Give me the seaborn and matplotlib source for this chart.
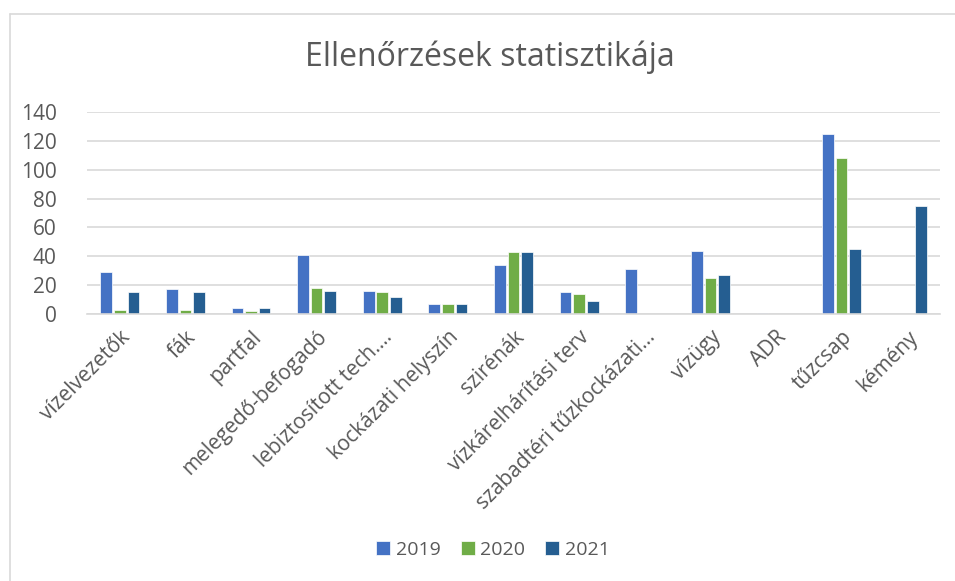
import matplotlib.pyplot as plt
import matplotlib.lines as mlines
import pandas as pd
import seaborn as sns

# %% data
categories = ["vízelvezetők", "fák", "partfal", "melegedő-befogadó",
              "lebiztosított tech.…", "kockázati helyszín", "szirénák",
              "vízkárelhárítási terv", "szabadtéri tűzkockázati…", "vízügy",
              "ADR", "tűzcsap", "kémény"]
years = ["2019", "2020", "2021"]
v2019 = [29, 17, 4, 41, 16, 7, 34, 15, 31, 44, 1, 125, 0]
v2020 = [3, 3, 2, 18, 15, 7, 43, 14, 0, 25, 0, 108, 0]
v2021 = [15, 15, 4, 16, 12, 7, 43, 9, 0, 27, 0, 45, 75]
colors = ["#4472C4", "#70AD47", "#255E91"]

df = pd.DataFrame({
    "category": categories * 3,
    "year": [y for y in years for _ in categories],
    "value": v2019 + v2020 + v2021,
})

# %% style
sns.set_style("white")
plt.rcParams["font.family"] = ["Open Sans", "DejaVu Sans"]
txt = "#595959"

fig = plt.figure(figsize=(9.55, 5.81), dpi=100)
ax = fig.add_axes([87/955, 1 - 314/581, (940 - 87)/955, (314 - 112)/581])

sns.barplot(data=df, x="category", y="value", hue="year", order=categories,
            hue_order=years, palette=colors, saturation=1, width=0.62,
            gap=0.14, edgecolor="white", linewidth=0.5, errorbar=None, ax=ax)

ax.set_ylim(0, 140)
ax.set_xlim(-0.5, len(categories) - 0.5)
ax.set_yticks(range(0, 141, 20))
ax.yaxis.grid(True, color="#D9D9D9", linewidth=1.2)
ax.set_axisbelow(True)
for s in ["top", "right", "left"]:
    ax.spines[s].set_visible(False)
ax.spines["bottom"].set_color("#D9D9D9")
ax.spines["bottom"].set_linewidth(1.2)
ax.set_xlabel("")
ax.set_ylabel("")
ax.tick_params(axis="both", length=0, colors=txt)
ax.tick_params(axis="y", pad=22, labelsize=15)
ax.set_xticks(range(len(categories)))
ax.set_xticklabels(categories, rotation=45, ha="right", va="top",
                   rotation_mode="anchor", color=txt, fontsize=15)
ax.tick_params(axis="x", pad=9)

fig.text(0.513, 1 - 57/581, "Ellenőrzések statisztikája", ha="center",
         va="center", fontsize=23, color=txt)

ax.legend(loc="center", bbox_to_anchor=(493/955, 1 - 550/581),
          bbox_transform=fig.transFigure, ncol=3, frameon=False,
          fontsize=14, handlelength=0.72, handleheight=0.72,
          columnspacing=1.0, handletextpad=0.3, labelcolor=txt)

# light frame of the chart area (cropped on right and bottom)
fig.add_artist(mlines.Line2D([10/955, 1], [1 - 14/581, 1 - 14/581],
                             color="#D9D9D9", lw=1.2))
fig.add_artist(mlines.Line2D([10/955, 10/955], [0, 1 - 14/581],
                             color="#D9D9D9", lw=1.2))

fig.savefig("out.png", dpi=100)
